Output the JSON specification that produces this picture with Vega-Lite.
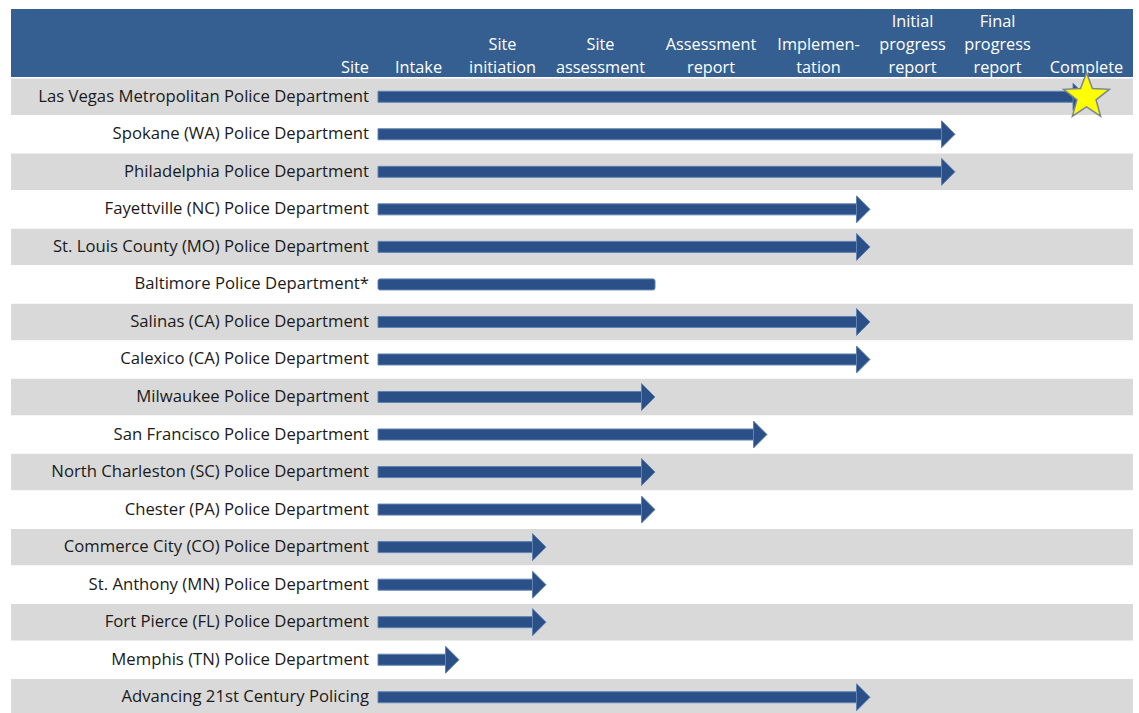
{
  "$schema": "https://vega.github.io/schema/vega-lite/v6.json",
  "width": 1139,
  "height": 713,
  "padding": 0,
  "autosize": {"type": "none"},
  "background": "white",
  "config": {"view": {"stroke": null}, "font": "Open Sans"},
  "datasets": {
    "stages": [
      {"label": "Intake", "mid": 0.5},
      {"label": " \nSite\ninitiation", "mid": 1.5},
      {"label": " \nSite\nassessment", "mid": 2.5},
      {"label": " \nAssessment\nreport", "mid": 3.5},
      {"label": " \nImplemen-\ntation", "mid": 4.5},
      {"label": "Initial\nprogress\nreport", "mid": 5.5},
      {"label": "Final\nprogress\nreport", "mid": 6.5},
      {"label": "Complete", "mid": 7.5}
    ],
    "sites": [
      {"row": 1, "site": "Las Vegas Metropolitan Police Department", "end": 7.5, "head": true, "complete": true},
      {"row": 2, "site": "Spokane (WA) Police Department", "end": 6, "head": true, "complete": false},
      {"row": 3, "site": "Philadelphia Police Department", "end": 6, "head": true, "complete": false},
      {"row": 4, "site": "Fayettville (NC) Police Department", "end": 5, "head": true, "complete": false},
      {"row": 5, "site": "St. Louis County (MO) Police Department", "end": 5, "head": true, "complete": false},
      {"row": 6, "site": "Baltimore Police Department*", "end": 3, "head": false, "complete": false},
      {"row": 7, "site": "Salinas (CA) Police Department", "end": 5, "head": true, "complete": false},
      {"row": 8, "site": "Calexico (CA) Police Department", "end": 5, "head": true, "complete": false},
      {"row": 9, "site": "Milwaukee Police Department", "end": 3, "head": true, "complete": false},
      {"row": 10, "site": "San Francisco Police Department", "end": 4, "head": true, "complete": false},
      {"row": 11, "site": "North Charleston (SC) Police Department", "end": 3, "head": true, "complete": false},
      {"row": 12, "site": "Chester (PA) Police Department", "end": 3, "head": true, "complete": false},
      {"row": 13, "site": "Commerce City (CO) Police Department", "end": 2, "head": true, "complete": false},
      {"row": 14, "site": "St. Anthony (MN) Police Department", "end": 2, "head": true, "complete": false},
      {"row": 15, "site": "Fort Pierce (FL) Police Department", "end": 2, "head": true, "complete": false},
      {"row": 16, "site": "Memphis (TN) Police Department", "end": 1, "head": true, "complete": false},
      {"row": 17, "site": "Advancing 21st Century Policing", "end": 5, "head": true, "complete": false}
    ]
  },
  "resolve": {"scale": {"y": "independent"}},
  "layer": [
    {
      "data": {"name": "stages"},
      "layer": [
        {
          "data": {"values": [{"band": "header"}]},
          "mark": {"type": "rect", "color": "#365f91"},
          "encoding": {
            "x": {"datum": -1, "type": "quantitative", "axis": null,
                  "scale": {"domain": [-1, 0, 1, 2, 3, 4, 5, 6, 7, 8], "range": [11, 378, 459, 546, 655, 767, 870, 955, 1040, 1133], "nice": false, "zero": false}},
            "x2": {"datum": 8},
            "y": {"datum": 0, "type": "quantitative", "axis": null,
                  "scale": {"domain": [0, 1], "range": [9, 77], "nice": false, "zero": false}},
            "y2": {"datum": 1}
          }
        },
        {
          "transform": [{"filter": "indexof(datum.label, '\\n') >= 0"}],
          "mark": {"type": "text", "color": "white", "fontSize": 16.3, "lineBreak": "\n", "lineHeight": 23, "baseline": "alphabetic", "align": "center", "dy": 18},
          "encoding": {
            "x": {"field": "mid", "type": "quantitative"},
            "y": {"datum": 0, "type": "quantitative"},
            "text": {"field": "label", "type": "nominal"}
          }
        },
        {
          "transform": [{"filter": "indexof(datum.label, '\\n') < 0"}],
          "mark": {"type": "text", "color": "white", "fontSize": 16.3, "baseline": "alphabetic", "align": "center", "dy": -4},
          "encoding": {
            "x": {"field": "mid", "type": "quantitative"},
            "y": {"datum": 1, "type": "quantitative"},
            "text": {"field": "label", "type": "nominal"}
          }
        },
        {
          "data": {"values": [{"label": "Site"}]},
          "mark": {"type": "text", "color": "white", "fontSize": 16.3, "baseline": "alphabetic", "align": "right", "dx": -9, "dy": -4},
          "encoding": {
            "x": {"datum": 0, "type": "quantitative"},
            "y": {"datum": 1, "type": "quantitative"},
            "text": {"field": "label", "type": "nominal"}
          }
        }
      ]
    },
    {
      "data": {"name": "sites"},
      "encoding": {
        "y": {"field": "site", "type": "nominal", "axis": null,
              "sort": {"field": "row", "op": "min", "order": "ascending"},
              "scale": {"range": [78, 716], "paddingInner": 0.03, "paddingOuter": 0.015}}
      },
      "layer": [
        {
          "transform": [{"filter": "datum.row % 2 == 1"}],
          "mark": {"type": "rect", "color": "#d9d9d9"},
          "encoding": {
            "x": {"datum": -1, "type": "quantitative"},
            "x2": {"datum": 8}
          }
        },
        {
          "mark": {"type": "text", "align": "right", "baseline": "middle", "dx": -9, "fontSize": 16.7, "color": "#1a1a1a"},
          "encoding": {
            "x": {"datum": 0, "type": "quantitative"},
            "text": {"field": "site", "type": "nominal"}
          }
        },
        {
          "transform": [{"filter": "datum.head"}],
          "mark": {"type": "bar", "height": 11, "xOffset": -12, "color": "#2a5087", "stroke": "#5f82b3", "strokeWidth": 1},
          "encoding": {
            "x": {"field": "end", "type": "quantitative"},
            "x2": {"datum": 0}
          }
        },
        {
          "transform": [{"filter": "!datum.head"}],
          "mark": {"type": "bar", "height": 11, "cornerRadius": 2, "color": "#2a5087", "stroke": "#5f82b3", "strokeWidth": 1},
          "encoding": {
            "x": {"field": "end", "type": "quantitative"},
            "x2": {"datum": 0}
          }
        },
        {
          "transform": [{"filter": "datum.head"}],
          "mark": {"type": "point", "shape": "M -1 -1 L 0 0 L -1 1 Z", "size": 729, "filled": true, "fill": "#2a5087", "stroke": "#5f82b3", "strokeWidth": 1, "opacity": 1},
          "encoding": {
            "x": {"field": "end", "type": "quantitative"}
          }
        },
        {
          "transform": [{"filter": "datum.complete"}],
          "mark": {"type": "point", "shape": "M 0 -1 L 0.247 -0.34 L 0.951 -0.309 L 0.399 0.13 L 0.588 0.809 L 0 0.42 L -0.588 0.809 L -0.399 0.13 L -0.951 -0.309 L -0.247 -0.34 Z", "size": 2304, "filled": true, "fill": "#ffff00", "stroke": "#7b8594", "strokeWidth": 1.5, "opacity": 1},
          "encoding": {
            "x": {"field": "end", "type": "quantitative"}
          }
        }
      ]
    }
  ]
}
